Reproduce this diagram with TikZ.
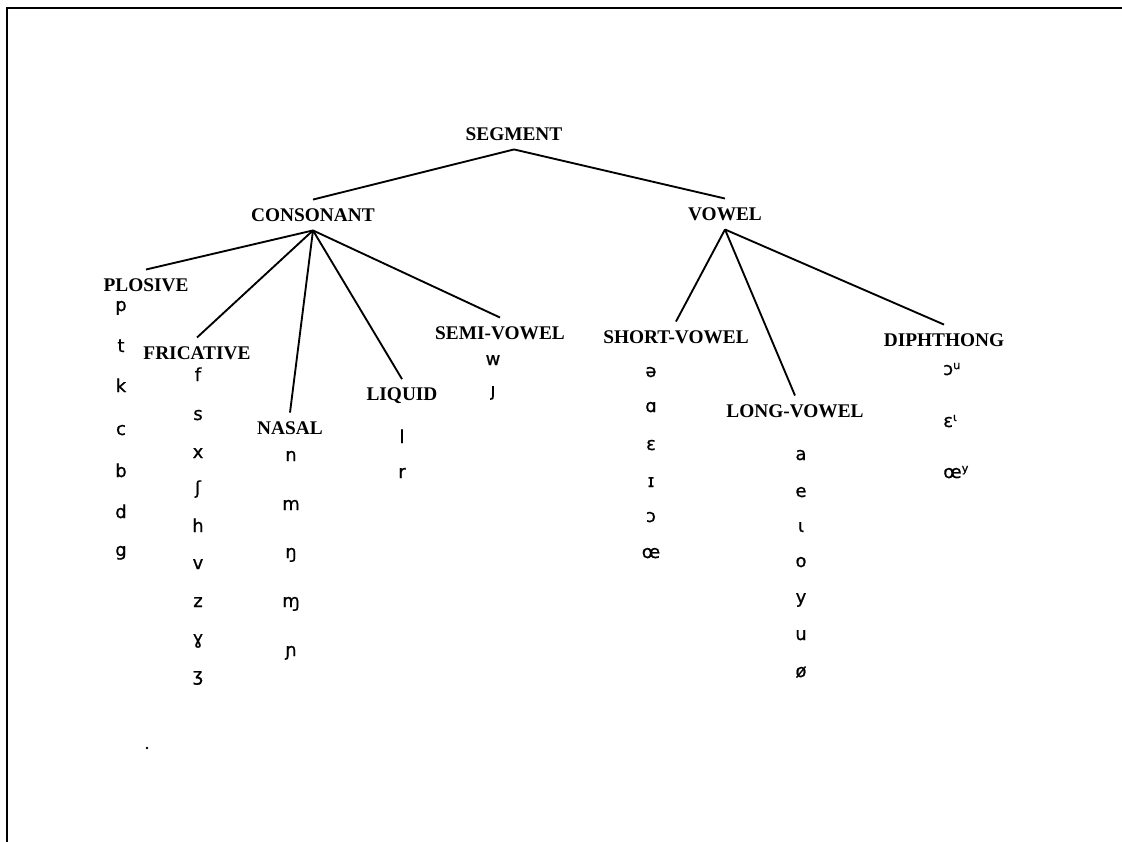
\documentclass[tikz,border=0pt]{standalone}
\usepackage{fontspec}
\setmainfont{Liberation Serif}
\newfontfamily\ipafont[FakeBold=0.8]{DejaVu Sans}
% small raised second element of a diphthong
\newcommand\offglide[1]{\raisebox{0.6ex}{\fontsize{8.5}{9}\selectfont #1}}
\begin{document}
\begin{tikzpicture}[x=0.75pt,y=-0.75pt,
  cat/.style={font=\bfseries\fontsize{14.5}{16}\selectfont, inner xsep=1pt, inner ysep=6.5pt},
  phon/.style={font=\ipafont\fontsize{13.5}{15}\selectfont, anchor=base, inner sep=0pt},
  branch/.style={line width=1.4pt},
  frame/.style={line width=2pt}]
\useasboundingbox (0,0) rectangle (1122,842);

% page frame (top and left edges)
\draw[frame] (1122,8) -- (7,8) -- (7,842);

% category labels
\node[cat] (segment)    at (514,134) {SEGMENT};
\node[cat] (consonant)  at (313,215) {CONSONANT};
\node[cat] (vowel)      at (725,214) {VOWEL};
\node[cat] (plosive)    at (146,285) {PLOSIVE};
\node[cat] (fricative)  at (197,353) {FRICATIVE};
\node[cat] (nasal)      at (290,428) {NASAL};
\node[cat] (liquid)     at (402,396) {LIQUID};
\node[cat] (semivowel)  at (500,333) {SEMI-VOWEL};
\node[cat] (shortvowel) at (676,337) {SHORT-VOWEL};
\node[cat] (longvowel)  at (795,411) {LONG-VOWEL};
\node[cat] (diphthong)  at (944,340) {DIPHTHONG};

% tree branches
\draw[branch] (segment.south) -- (consonant.north);
\draw[branch] (segment.south) -- (vowel.north);
\foreach \c in {plosive,fricative,nasal,liquid,semivowel}
  \draw[branch] (consonant.south) -- (\c.north);
\foreach \c in {shortvowel,longvowel,diphthong}
  \draw[branch] (vowel.south) -- (\c.north);

% segment inventories
\foreach \s/\b [count=\i] in {p/311,t/352,k/392,c/435,b/477,d/518,g/556}
  \node[phon] (plo\i) at (121,\b) {\s};
\foreach \s/\b [count=\i] in {f/381,s/420,x/458,ʃ/494,h/532,v/569,z/607,ɣ/644,ʒ/681}
  \node[phon] (fri\i) at (198,\b) {\s};
\foreach \s/\b [count=\i] in {n/461,m/510,ŋ/558,ɱ/607,ɲ/656}
  \node[phon] (nas\i) at (291,\b) {\s};
\foreach \s/\b [count=\i] in {l/443,r/478}
  \node[phon] (liq\i) at (402,\b) {\s};
\foreach \s/\b [count=\i] in {w/365,ȷ/396}
  \node[phon] (sem\i) at (493,\b) {\s};
\foreach \s/\b [count=\i] in {ə/377,ɑ/412,ɛ/450,ɪ/487,ɔ/522,œ/558}
  \node[phon] (sho\i) at (651,\b) {\s};
\foreach \s/\b [count=\i] in {a/460,e/497,ɩ/532,o/567,y/603,u/640,ø/677}
  \node[phon] (lon\i) at (801,\b) {\s};
\node[phon, anchor=base west] (dip1) at (943,375) {ɔ\offglide{u}};
\node[phon, anchor=base west] (dip2) at (943,427) {ɛ\offglide{ɩ}};
\node[phon, anchor=base west] (dip3) at (943,478) {œ\offglide{y}};

% speck on the page
\fill (147,748) circle (1.3);
\end{tikzpicture}
\end{document}
